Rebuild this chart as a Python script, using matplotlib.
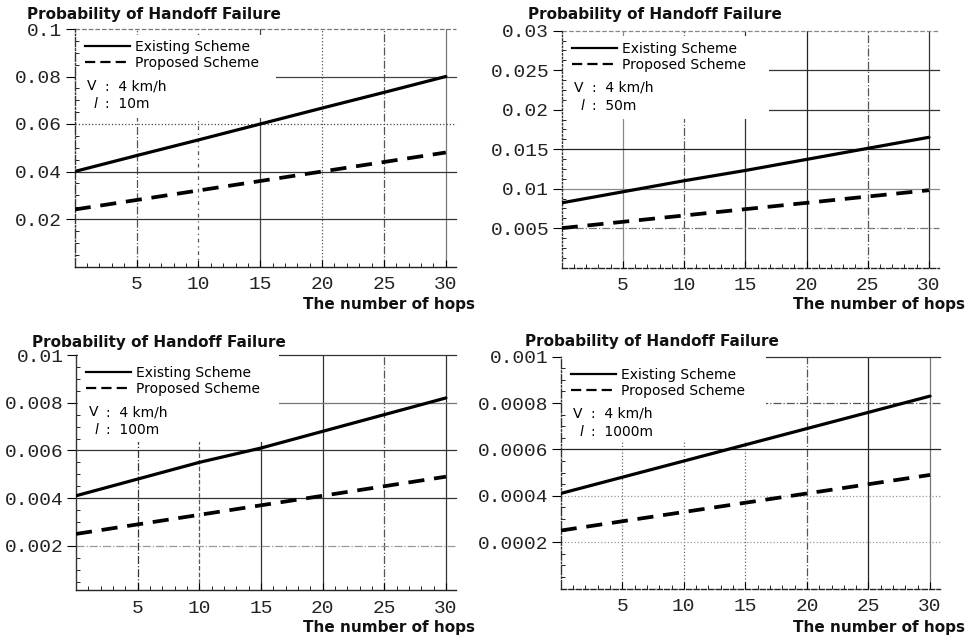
import matplotlib
matplotlib.use('Agg')
import matplotlib.pyplot as plt
from matplotlib.lines import Line2D
from matplotlib.patches import Rectangle
from matplotlib.ticker import AutoMinorLocator, MultipleLocator

W, H = 969, 640

# data (x = number of hops)
hops = [0, 5, 10, 15, 20, 25, 30]
existing_10m = [0.040, 0.0467, 0.0533, 0.060, 0.0667, 0.0733, 0.080]
proposed_10m = [0.024, 0.028, 0.032, 0.036, 0.040, 0.044, 0.048]
existing_50m = [0.0082, 0.0096, 0.0110, 0.0123, 0.0137, 0.0151, 0.0165]
proposed_50m = [0.0050, 0.0058, 0.0066, 0.0074, 0.0082, 0.0090, 0.0098]
existing_100m = [0.0041, 0.0048, 0.0055, 0.0061, 0.0068, 0.0075, 0.0082]
proposed_100m = [0.0025, 0.0029, 0.0033, 0.0037, 0.0041, 0.0045, 0.0049]
existing_1000m = [0.00041, 0.00048, 0.00055, 0.00062, 0.00069, 0.00076, 0.00083]
proposed_1000m = [0.00025, 0.00029, 0.00033, 0.00037, 0.00041, 0.00045, 0.00049]

x_ticks = [5, 10, 15, 20, 25, 30]
y_ticks_10m = [0.02, 0.04, 0.06, 0.08, 0.1]
y_labels_10m = ['0.02', '0.04', '0.06', '0.08', '0.1']
y_ticks_50m = [0.005, 0.01, 0.015, 0.02, 0.025, 0.03]
y_labels_50m = ['0.005', '0.01', '0.015', '0.02', '0.025', '0.03']
y_ticks_100m = [0.002, 0.004, 0.006, 0.008, 0.01]
y_labels_100m = ['0.002', '0.004', '0.006', '0.008', '0.01']
y_ticks_1000m = [0.0002, 0.0004, 0.0006, 0.0008, 0.001]
y_labels_1000m = ['0.0002', '0.0004', '0.0006', '0.0008', '0.001']
lengths = ['10m', '50m', '100m', '1000m']

title = 'Probability of Handoff Failure'
xlabel = 'The number of hops'
legend_labels = ['Existing Scheme', 'Proposed Scheme']

# layout in pixels: axes rect (left, top, right, bottom), title pos, xlabel pos, white box
panels = [
    dict(ex=existing_10m, pr=proposed_10m, yt=y_ticks_10m, yl=y_labels_10m, ylim=(0, 0.1),
         rect=(74.7, 29, 455.7, 266.5), title=(27, 19), xlab=(475, 309), box=(6, 89, 200),
         hs=['-', '-', ':', '-', '--'], hc=['#333', '#333', '#444', '#444', '#777'],
         vs=['-.', (0, (3, 3, 1, 3)), '-', ':', '-.', '-'], vc=['#555', '#555', '#444', '#555', '#555', '#777'],
         spl='-.', spb='-'),
    dict(ex=existing_50m, pr=proposed_50m, yt=y_ticks_50m, yl=y_labels_50m, ylim=(0, 0.03),
         rect=(561.7, 30.7, 938.7, 267.6), title=(528, 19), xlab=(965, 309), box=(5, 88, 206),
         hs=['-.', '-', '-', '-', '-', '--'], hc=['#777', '#888', '#222', '#333', '#333', '#888'],
         vs=['-', '-.', '-', '-', '-.', '-'], vc=['#888', '#555', '#333', '#222', '#555', '#333'],
         spl=':', spb='--'),
    dict(ex=existing_100m, pr=proposed_100m, yt=y_ticks_100m, yl=y_labels_100m, ylim=(0.00015, 0.01),
         rect=(76, 355, 455.8, 590), title=(32, 347), xlab=(475, 632), box=(-3, 87, 201),
         hs=['-.', '-', '-', '-', '-'], hc=['#999', '#333', '#333', '#777', '#333'],
         vs=['-.', '--', '-', '-', '-.', '-'], vc=['#333', '#555', '#333', '#333', '#555', '#333'],
         spl='-', spb='-'),
    dict(ex=existing_1000m, pr=proposed_1000m, yt=y_ticks_1000m, yl=y_labels_1000m, ylim=(0, 0.001),
         rect=(560.7, 356.7, 939.9, 588.5), title=(525, 346), xlab=(965, 632), box=(-3, 85, 204),
         hs=[':', ':', '-', '-.', '-'], hc=['#999', '#999', '#222', '#555', '#333'],
         vs=[':', ':', ':', '-.', '-', '-'], vc=['#666', '#666', '#666', '#555', '#222', '#777'],
         spl='-.', spb='--'),
]

fig = plt.figure(figsize=(W / 100, H / 100), dpi=100)


def fx(x):
    return x / W


def fy(y):
    return 1 - y / H


label_font = dict(family='DejaVu Sans', weight='bold', size=11, color='#111')
num_font = dict(fontfamily='Liberation Mono', fontsize=14, color='#222')
small = dict(family='DejaVu Sans', size=10, va='baseline')

for p, length in zip(panels, lengths):
    l, t, r, b = p['rect']
    ax = fig.add_axes([fx(l), fy(b), (r - l) / W, (b - t) / H])
    ax.set_xlim(0, 30.8)
    ax.set_ylim(*p['ylim'])

    # grid lines, each with its own style as in the scan
    for v, ls, c in zip(x_ticks, p['vs'], p['vc']):
        ax.axvline(v, ls=ls, color=c, lw=0.9, zorder=1)
    for v, ls, c in zip(p['yt'], p['hs'], p['hc']):
        ax.axhline(v, ls=ls, color=c, lw=0.9, zorder=1, clip_on=False)

    # white area behind the legend text
    bt, bb, bw = p['box']
    ax.add_patch(Rectangle((fx(l + 1.5), fy(t + bb)), bw / W, (bb - bt) / H,
                           transform=fig.transFigure, facecolor='white',
                           edgecolor='none', zorder=1.5, clip_on=False))

    ax.plot(hops, p['ex'], color='black', lw=2.3, solid_capstyle='round', zorder=3)
    ax.plot(hops, p['pr'], color='black', lw=2.7, ls=(0, (4.3, 2.6)), zorder=3)

    handles = [Line2D([], [], color='black', lw=1.6),
               Line2D([], [], color='black', lw=1.6, ls=(0, (4.6, 2.3)))]
    ax.legend(handles, legend_labels, loc='upper left',
              bbox_to_anchor=(fx(l + 10), fy(t + 11)), bbox_transform=fig.transFigure,
              frameon=False, borderpad=0, borderaxespad=0, handlelength=3.25,
              handletextpad=0.36, labelspacing=0.15,
              prop={'family': 'DejaVu Sans', 'size': 10})
    fig.text(fx(l + 12.5), fy(t + 61), 'V', **small)
    fig.text(fx(l + 30), fy(t + 61), ':  4 km/h', **small)
    fig.text(fx(l + 18), fy(t + 79), r'$\mathit{l}$', size=10, va='baseline')
    fig.text(fx(l + 30), fy(t + 79), ':  ' + length, **small)

    ax.set_xticks(x_ticks, labels=[str(v) for v in x_ticks], **num_font)
    ax.set_yticks(p['yt'], labels=p['yl'], **num_font)
    ax.xaxis.set_minor_locator(MultipleLocator(1))
    ax.yaxis.set_minor_locator(AutoMinorLocator(4))
    ax.tick_params(axis='y', which='major', direction='out', length=6.5, width=0.8, pad=2.5)
    ax.tick_params(axis='y', which='minor', direction='in', length=3, width=0.6)
    ax.tick_params(axis='x', which='major', direction='in', length=5, width=0.8, pad=7)
    ax.tick_params(axis='x', which='minor', direction='in', length=3, width=0.6)

    for s in ['top', 'right']:
        ax.spines[s].set_visible(False)
    ax.spines['left'].set_linestyle(p['spl'])
    ax.spines['left'].set_color('#333')
    ax.spines['bottom'].set_linestyle(p['spb'])
    ax.spines['bottom'].set_color('#222')
    ax.spines['left'].set_linewidth(1.0)
    ax.spines['bottom'].set_linewidth(1.0)

    fig.text(fx(p['title'][0]), fy(p['title'][1]), title, va='baseline', ha='left', **label_font)
    fig.text(fx(p['xlab'][0]), fy(p['xlab'][1]), xlabel, va='baseline', ha='right', **label_font)

fig.savefig('out.png', dpi=100)
